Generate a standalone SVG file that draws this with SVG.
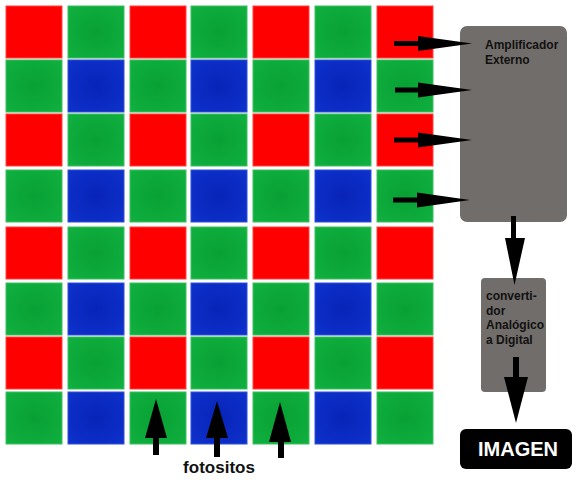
<svg xmlns="http://www.w3.org/2000/svg" width="587" height="480" viewBox="0 0 587 480">
<defs>
<radialGradient id="gG" cx="50%" cy="50%" r="70%"><stop offset="0" stop-color="#08a034"/><stop offset="1" stop-color="#10b040"/></radialGradient>
<radialGradient id="gB" cx="50%" cy="50%" r="70%"><stop offset="0" stop-color="#0824b8"/><stop offset="1" stop-color="#0d32cc"/></radialGradient>
<style>
.r{fill:#ff0000;stroke:#ff4040;stroke-width:1}
.g{fill:url(#gG);stroke:#3cc060;stroke-width:1}
.b{fill:url(#gB);stroke:#3050d8;stroke-width:1}
.ar{fill:#000;stroke:none}
.box{fill:#716d6b}
.lbl{font-family:"Liberation Sans",Arial,sans-serif;font-weight:bold;font-size:12px;fill:#111}
</style>
</defs>
<rect width="587" height="480" fill="#ffffff"/>
<g id="grid">
<g id="row0">
<rect class="r" x="6" y="6" width="56" height="52"/><rect class="g" x="68" y="6" width="56" height="52"/><rect class="r" x="130" y="6" width="56" height="52"/><rect class="g" x="191" y="6" width="56" height="52"/><rect class="r" x="253" y="6" width="56" height="52"/><rect class="g" x="315" y="6" width="56" height="52"/><rect class="r" x="377" y="6" width="56" height="52"/>
</g>
<g id="row1">
<rect class="g" x="6" y="60" width="56" height="52"/><rect class="b" x="68" y="60" width="56" height="52"/><rect class="g" x="130" y="60" width="56" height="52"/><rect class="b" x="191" y="60" width="56" height="52"/><rect class="g" x="253" y="60" width="56" height="52"/><rect class="b" x="315" y="60" width="56" height="52"/><rect class="g" x="377" y="60" width="56" height="52"/>
</g>
<g id="row2">
<rect class="r" x="6" y="114" width="56" height="52"/><rect class="g" x="68" y="114" width="56" height="52"/><rect class="r" x="130" y="114" width="56" height="52"/><rect class="g" x="191" y="114" width="56" height="52"/><rect class="r" x="253" y="114" width="56" height="52"/><rect class="g" x="315" y="114" width="56" height="52"/><rect class="r" x="377" y="114" width="56" height="52"/>
</g>
<g id="row3">
<rect class="g" x="6" y="170" width="56" height="52"/><rect class="b" x="68" y="170" width="56" height="52"/><rect class="g" x="130" y="170" width="56" height="52"/><rect class="b" x="191" y="170" width="56" height="52"/><rect class="g" x="253" y="170" width="56" height="52"/><rect class="b" x="315" y="170" width="56" height="52"/><rect class="g" x="377" y="170" width="56" height="52"/>
</g>
<g id="row4">
<rect class="r" x="6" y="227" width="56" height="52"/><rect class="g" x="68" y="227" width="56" height="52"/><rect class="r" x="130" y="227" width="56" height="52"/><rect class="g" x="191" y="227" width="56" height="52"/><rect class="r" x="253" y="227" width="56" height="52"/><rect class="g" x="315" y="227" width="56" height="52"/><rect class="r" x="377" y="227" width="56" height="52"/>
</g>
<g id="row5">
<rect class="g" x="6" y="283" width="56" height="52"/><rect class="b" x="68" y="283" width="56" height="52"/><rect class="g" x="130" y="283" width="56" height="52"/><rect class="b" x="191" y="283" width="56" height="52"/><rect class="g" x="253" y="283" width="56" height="52"/><rect class="b" x="315" y="283" width="56" height="52"/><rect class="g" x="377" y="283" width="56" height="52"/>
</g>
<g id="row6">
<rect class="r" x="6" y="337" width="56" height="52"/><rect class="g" x="68" y="337" width="56" height="52"/><rect class="r" x="130" y="337" width="56" height="52"/><rect class="g" x="191" y="337" width="56" height="52"/><rect class="r" x="253" y="337" width="56" height="52"/><rect class="g" x="315" y="337" width="56" height="52"/><rect class="r" x="377" y="337" width="56" height="52"/>
</g>
<g id="row7">
<rect class="g" x="6" y="392" width="56" height="52"/><rect class="b" x="68" y="392" width="56" height="52"/><rect class="g" x="130" y="392" width="56" height="52"/><rect class="b" x="191" y="392" width="56" height="52"/><rect class="g" x="253" y="392" width="56" height="52"/><rect class="b" x="315" y="392" width="56" height="52"/><rect class="g" x="377" y="392" width="56" height="52"/>
</g>
</g>
<g id="amplificador">
<rect class="box" x="460" y="26" width="107" height="196" rx="7"/>
<text class="lbl" x="485" y="49">Amplificador</text>
<text class="lbl" x="485" y="64">Externo</text>
</g>
<g id="convertidor">
<rect class="box" x="481" y="278" width="65" height="114" rx="4" fill="#75716f"/>
<text class="lbl" x="486" y="300">converti-</text>
<text class="lbl" x="486" y="314.5">dor</text>
<text class="lbl" x="486" y="329">Analógico</text>
<text class="lbl" x="486" y="343.5">a Digital</text>
</g>
<g id="imagen">
<rect x="460" y="429" width="112" height="40" rx="6" fill="#000"/>
<text x="518" y="456" text-anchor="middle" font-family="'Liberation Sans',Arial,sans-serif" font-weight="bold" font-size="20" fill="#fff">IMAGEN</text>
</g>
<g id="fotositos">
<text x="219" y="473" text-anchor="middle" font-family="'Liberation Sans',Arial,sans-serif" font-weight="bold" font-size="17" fill="#111">fotositos</text>
</g>
<g id="connectors">
<g id="a1"><rect class="ar" x="394" y="41" width="26" height="5"/><polygon class="ar" points="418,36 472,43.5 418,51"/></g>
<g id="a2"><rect class="ar" x="395" y="87.5" width="26" height="5"/><polygon class="ar" points="418,82.5 472,90 418,97.5"/></g>
<g id="a3"><rect class="ar" x="394" y="137.5" width="26" height="5"/><polygon class="ar" points="418,132.5 472,140 418,147.5"/></g>
<g id="a4"><rect class="ar" x="393" y="197.5" width="26" height="5"/><polygon class="ar" points="417,192.5 470,200 417,207.5"/></g>
<g id="d1"><rect class="ar" x="511" y="216" width="5" height="26"/><polygon class="ar" points="505,238 525,238 514.5,285"/></g>
<g id="d2"><rect class="ar" x="513" y="357" width="6" height="24"/><polygon class="ar" points="504,377 528,377 516,423"/></g>
<g id="u1"><rect class="ar" x="153" y="435" width="6" height="20"/><polygon class="ar" points="145,438 167,438 156,399"/></g>
<g id="u2"><rect class="ar" x="214" y="435" width="6" height="22"/><polygon class="ar" points="206,438 228,438 217,401"/></g>
<g id="u3"><rect class="ar" x="278" y="438" width="6" height="20"/><polygon class="ar" points="269,442 291,442 280,402"/></g>
</g>
</svg>
